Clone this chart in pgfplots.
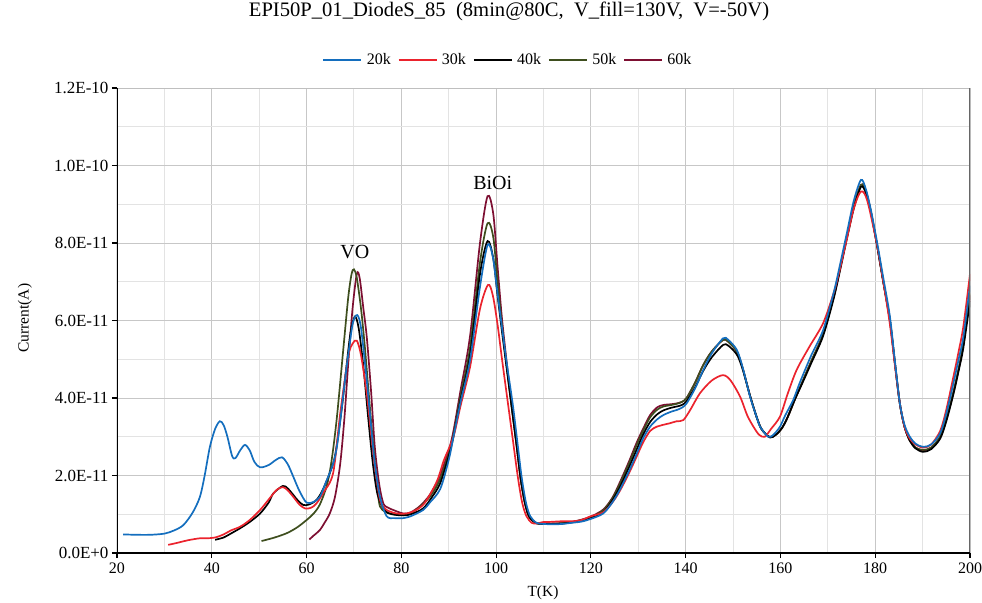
\documentclass[border=0pt]{standalone}
\usepackage{fontspec}
\setmainfont{Liberation Serif}
\usepackage{pgfplots}
\pgfplotsset{compat=1.18}
\definecolor{c20}{RGB}{20,110,190}
\definecolor{c30}{RGB}{235,35,45}
\definecolor{c40}{RGB}{0,0,0}
\definecolor{c50}{RGB}{62,78,30}
\definecolor{c60}{RGB}{125,15,50}
\begin{document}
\begin{tikzpicture}
\begin{axis}[
  at={(0,0)}, anchor=south west,
  scale only axis, width=853bp, height=465bp,
  xmin=20, xmax=200, ymin=0, ymax=12,
  xtick={20,40,...,200},
  ytick={0,2,4,6,8,10,12},
  yticklabels={0.0E+0,2.0E-11,4.0E-11,6.0E-11,8.0E-11,1.0E-10,1.2E-10},
  minor x tick num=1, minor y tick num=1,
  grid=both,
  major grid style={draw=black!22, line width=0.9bp},
  minor grid style={draw=black!11, line width=0.9bp},
  axis line style={draw=none},
  tick align=outside, xtick pos=bottom, ytick pos=left,
  major tick length=5bp, minor tick length=0pt,
  tick style={black, line width=1.2bp},
  /pgf/number format/assume math mode=true,
  xticklabel style={font=\fontsize{16bp}{18bp}\selectfont, yshift=-1bp},
  yticklabel style={font=\fontsize{17bp}{19bp}\selectfont, xshift=0bp},
  xlabel={T(K)}, ylabel={Current(A)},
  every axis x label/.style={at={(axis description cs:0.4994,-0.086)}, anchor=center, font=\fontsize{15.5bp}{18bp}\selectfont},
  every axis y label/.style={at={(axis description cs:-0.108,0.505)}, anchor=center, rotate=90, font=\fontsize{15.5bp}{18bp}\selectfont},
  title={EPI50P\_01\_DiodeS\_85\ \ (8min@80C,\ \ V\_fill=130V,\ \ V=-50V)},
  title style={at={(axis description cs:0.4596,1.151)}, anchor=center, font=\fontsize{20.6bp}{23bp}\selectfont},
  legend columns=-1, reverse legend,
  legend style={at={(axis description cs:0.4584,1.060)}, anchor=center, draw=none, fill=none,
    font=\fontsize{16bp}{18bp}\selectfont,
    /tikz/every odd column/.append style={column sep=2.5bp},
    /tikz/every even column/.append style={column sep=5bp}},
  legend image code/.code={\draw[#1, line width=1.7bp] (0bp,0bp) -- (38bp,0bp);},
  every axis plot/.append style={line width=1.7bp, smooth, tension=0.5, no marks},
  clip=true,
]
% 60k
\addplot[c60] coordinates {
(60.6,0.35)(61.5,0.45)(62.8,0.59)(63.8,0.78)(64.9,1.02)(66,1.45)(67.1,2.3)(68,3.5)(68.8,4.9)(69.7,6.3)(70.6,7.2)(71.2,7.1)(72,6.3)(72.7,5.58)(73.6,4.2)(74.4,2.74)(75.3,1.8)(76.2,1.28)(77.2,1.17)(78.3,1.11)(80.4,1.02)(82,1.05)(84,1.22)(86,1.5)(88,1.95)(90,2.65)(91,3.15)(92.5,4.2)(94.5,5.6)(96.6,8.0)(98.2,9.21)(99.4,8.75)(100.3,7.4)(101.2,6.1)(102.3,4.85)(103.3,3.8)(104.3,2.8)(105.2,1.9)(106.1,1.28)(107,0.93)(108.5,0.77)(110,0.75)(112,0.76)(114,0.77)(116,0.8)(118,0.86)(120,0.94)(122.6,1.12)(124.5,1.42)(126.1,1.82)(128,2.35)(129.7,2.86)(131,3.2)(132.5,3.56)(134,3.76)(135.3,3.82)(137,3.84)(138.1,3.86)(139.2,3.9)(140.2,4.0)(142,4.4)(143.7,4.85)(145.5,5.2)(147.9,5.5)(149,5.45)(150.8,5.2)(152,4.78)(153.6,4.05)(155,3.5)(156,3.2)(157.6,3.0)(159,3.05)(160.3,3.22)(161.5,3.5)(163,3.95)(164.5,4.38)(166.5,4.95)(169,5.65)(171.2,6.6)(172.5,7.3)(174,8.15)(175.5,8.95)(177,9.5)(178,9.35)(179,8.85)(180.3,8.0)(181.7,7.0)(183.1,6.0)(184.2,4.85)(185.2,3.85)(186.2,3.25)(187.3,2.9)(188.5,2.72)(190.1,2.65)(191.8,2.72)(193.7,3.0)(195,3.45)(196.5,4.15)(197.6,4.75)(198.6,5.4)(200,6.65)};
% 50k
\addplot[c50] coordinates {
(50.5,0.31)(53,0.39)(55.8,0.51)(58,0.66)(60,0.85)(61.5,1.02)(62.8,1.25)(64.3,1.75)(65.3,2.4)(66.4,3.5)(67.8,5.32)(68.8,6.6)(69.5,7.2)(70.0,7.32)(70.6,7.1)(71.5,6.3)(72.3,5.32)(73.2,4.0)(74.1,2.74)(75,1.6)(75.5,1.2)(76.5,1.07)(77.6,1.02)(80,0.98)(82,1.02)(84,1.2)(86,1.45)(88,1.85)(90,2.55)(91,3.05)(92.5,4.05)(94.5,5.3)(96.6,7.5)(98.2,8.51)(99.4,8.15)(100.3,7.0)(101.2,5.9)(102.3,4.75)(103.3,3.75)(104.3,2.8)(105.2,1.9)(106.1,1.28)(107,0.93)(108.5,0.77)(110,0.75)(112,0.76)(114,0.77)(116,0.8)(118,0.85)(120,0.92)(122.6,1.1)(124.5,1.4)(126.1,1.78)(128,2.3)(129.7,2.8)(131,3.15)(132.5,3.5)(134,3.7)(135.3,3.78)(137,3.82)(138.1,3.85)(139.2,3.9)(140.2,4.0)(142,4.4)(143.7,4.85)(145.5,5.2)(147.9,5.5)(149,5.45)(150.8,5.2)(152,4.78)(153.6,4.05)(155,3.5)(156,3.2)(157.6,3.0)(159,3.05)(160.3,3.22)(161.5,3.5)(163,3.95)(164.5,4.38)(166.5,4.95)(169,5.65)(171.2,6.6)(172.5,7.3)(174,8.15)(175.5,8.95)(177,9.5)(178,9.35)(179,8.85)(180.3,8.0)(181.7,7.0)(183.1,6.0)(184.2,4.85)(185.2,3.85)(186.2,3.25)(187.3,2.9)(188.5,2.72)(190.1,2.66)(191.8,2.72)(193.7,3.0)(195,3.45)(196.5,4.15)(197.6,4.75)(198.6,5.4)(200,6.7)};
% 40k
\addplot[c40] coordinates {
(40.7,0.34)(42.5,0.40)(44,0.50)(46,0.64)(48,0.80)(50.2,1.02)(52,1.30)(53,1.54)(55,1.73)(56,1.67)(57.2,1.50)(58.2,1.35)(59.3,1.24)(60.5,1.25)(62.1,1.37)(63.5,1.65)(65.6,2.3)(66.4,2.8)(67.5,3.8)(68.5,4.9)(69.3,5.7)(70.2,6.1)(71,5.8)(72,4.8)(73,3.5)(74,2.3)(75,1.5)(76.5,1.1)(78,1.0)(80.4,0.97)(82,1.0)(84.6,1.15)(86.5,1.45)(88.2,1.8)(90,2.5)(91,3.0)(92.5,3.95)(94.5,5.1)(96.6,7.2)(98.2,8.05)(99.4,7.6)(100.3,6.65)(101.2,5.75)(102.3,4.7)(103.3,3.75)(104.3,2.8)(105.2,1.9)(106.1,1.28)(107,0.93)(108.5,0.77)(110,0.75)(112,0.75)(114,0.76)(116,0.79)(118,0.83)(120,0.9)(122.6,1.05)(124.5,1.35)(126.1,1.7)(128,2.2)(129.7,2.68)(131,3.05)(132.5,3.38)(134,3.58)(135.3,3.68)(137,3.75)(138.1,3.78)(139.2,3.82)(140.2,3.92)(142,4.28)(143.7,4.7)(145.5,5.05)(147.9,5.37)(149,5.35)(150.8,5.12)(152,4.75)(153.6,4.05)(155,3.5)(156,3.2)(157.8,2.98)(159,3.05)(160.3,3.22)(161.5,3.5)(163,3.95)(164.5,4.35)(166.5,4.9)(169,5.6)(171.2,6.55)(172.5,7.25)(174,8.1)(175.5,8.9)(177,9.45)(178,9.3)(179,8.85)(180.3,8.0)(181.7,7.0)(183.1,6.0)(184.2,4.85)(185.2,3.85)(186.2,3.25)(187.3,2.9)(188.5,2.7)(190.1,2.61)(191.8,2.68)(193.7,2.95)(195,3.4)(196.5,4.1)(197.6,4.7)(198.6,5.3)(200,6.5)};
% 30k
\addplot[c30] coordinates {
(30.8,0.21)(33,0.27)(35,0.33)(37.5,0.38)(39,0.38)(40.7,0.40)(42.5,0.48)(44,0.58)(46,0.68)(48,0.85)(50.2,1.11)(52,1.38)(53.7,1.63)(55,1.70)(56,1.62)(57.2,1.45)(58.5,1.25)(59.7,1.15)(61,1.17)(62.1,1.28)(63.5,1.55)(65.6,2.06)(67.1,3.6)(68.8,5.07)(69.7,5.4)(70.6,5.48)(71.5,5.1)(72.7,4.12)(73.6,3.1)(74.4,2.23)(75.5,1.37)(76.5,1.15)(77.6,1.07)(79,1.02)(81.1,1.02)(83,1.1)(85,1.3)(87.5,1.85)(89,2.4)(91,3.0)(92.5,3.8)(94.5,4.8)(96.6,6.3)(98.3,6.92)(99.3,6.65)(100.3,5.9)(101.3,4.95)(102.4,3.95)(103.5,2.95)(104.6,1.95)(105.5,1.3)(106.4,0.95)(107.5,0.78)(108.5,0.76)(110,0.8)(111,0.8)(114,0.82)(116,0.82)(118,0.85)(120,0.95)(122.6,1.05)(124.5,1.3)(126.1,1.6)(128,2.05)(129.7,2.5)(131,2.85)(132.5,3.15)(133.9,3.26)(135,3.3)(136.7,3.35)(138.1,3.4)(139.5,3.43)(141,3.7)(143,4.12)(145.5,4.45)(147.9,4.59)(149.5,4.45)(151.5,4.03)(153,3.55)(154.3,3.26)(155.5,3.05)(156.7,3.0)(158,3.2)(159.9,3.52)(161.5,4.1)(163.4,4.72)(166,5.3)(169,5.93)(171.2,6.7)(172.5,7.3)(174,8.1)(175.5,8.9)(177,9.33)(178.3,9.1)(180.3,8.0)(181.7,7.0)(183.1,5.9)(184.2,4.8)(185.2,3.86)(186.2,3.25)(187.3,2.95)(188.5,2.8)(190.1,2.72)(191.8,2.8)(193.7,3.15)(195,3.7)(196.5,4.55)(197.6,5.2)(198.6,5.85)(200,7.2)};
% 20k
\addplot[c20] coordinates {
(21.3,0.48)(24,0.47)(27,0.47)(30,0.50)(32,0.58)(34,0.72)(36,1.05)(37.5,1.45)(38.5,2.0)(39.6,2.74)(40.7,3.2)(41.7,3.40)(42.5,3.3)(43.3,3.0)(44.3,2.5)(45,2.45)(46,2.65)(47,2.79)(48,2.65)(49,2.35)(50.2,2.21)(52,2.27)(53.5,2.40)(54.8,2.47)(56,2.3)(57.2,1.97)(58.5,1.6)(60,1.30)(61.5,1.32)(62.8,1.45)(64,1.8)(65.6,2.3)(66.4,2.74)(67.2,3.5)(68.1,4.46)(69,5.3)(69.8,5.95)(70.7,6.14)(71.5,5.8)(72.7,4.46)(73.6,3.3)(74.4,2.31)(75.5,1.45)(76.9,0.95)(78.5,0.90)(80.4,0.90)(82,0.95)(84.6,1.11)(86,1.3)(88.2,1.65)(90,2.4)(91,3.0)(92.5,3.9)(94.5,4.98)(96.6,6.87)(98.2,7.95)(99.3,7.65)(100.2,6.8)(101.1,5.95)(102.3,4.85)(103.5,3.85)(104.5,2.85)(105.4,1.95)(106.3,1.3)(107.2,0.95)(108.5,0.78)(110,0.75)(112,0.74)(114,0.75)(116,0.78)(118,0.81)(120,0.88)(122.6,1.02)(124.5,1.3)(126.1,1.63)(128,2.1)(129.7,2.57)(131,2.95)(132.5,3.26)(134,3.45)(135.3,3.56)(137,3.65)(138.1,3.69)(139.2,3.75)(140.2,3.86)(142,4.25)(143.7,4.72)(145.5,5.15)(147.9,5.54)(149,5.5)(150.8,5.24)(152,4.8)(153.6,4.03)(155,3.5)(155.7,3.26)(157.4,3.0)(158.5,3.05)(159.9,3.26)(161,3.55)(162.7,3.95)(164.1,4.4)(166.5,5.1)(169,5.75)(171.2,6.7)(172.5,7.4)(174,8.25)(175.5,9.1)(177,9.63)(178,9.4)(179,8.9)(180.3,8.08)(181.7,7.1)(183.1,6.1)(184.2,4.9)(185.2,3.86)(186.2,3.3)(187.3,3.0)(188.5,2.82)(190.1,2.74)(191.8,2.8)(193.7,3.09)(195,3.6)(196.5,4.38)(197.6,5.0)(198.6,5.58)(200,6.9)};
\legend{60k,50k,40k,30k,20k}
\node[font=\fontsize{20bp}{22bp}\selectfont] at (axis cs:70.2,7.77) {VO};
\node[font=\fontsize{20bp}{22bp}\selectfont] at (axis cs:99.3,9.55) {BiOi};
\draw[black!25, line width=0.9bp] (rel axis cs:0,1) -- (rel axis cs:1,1);
\draw[black!60, line width=1.3bp] (rel axis cs:1,0) -- (rel axis cs:1,1);
\draw[black, line width=1.8bp] (rel axis cs:0,1) -- (rel axis cs:0,0) -- (rel axis cs:1,0);
\end{axis}
\pgfresetboundingbox
\path (-117bp,-50bp) rectangle (865bp,553bp);
\end{tikzpicture}
\end{document}
